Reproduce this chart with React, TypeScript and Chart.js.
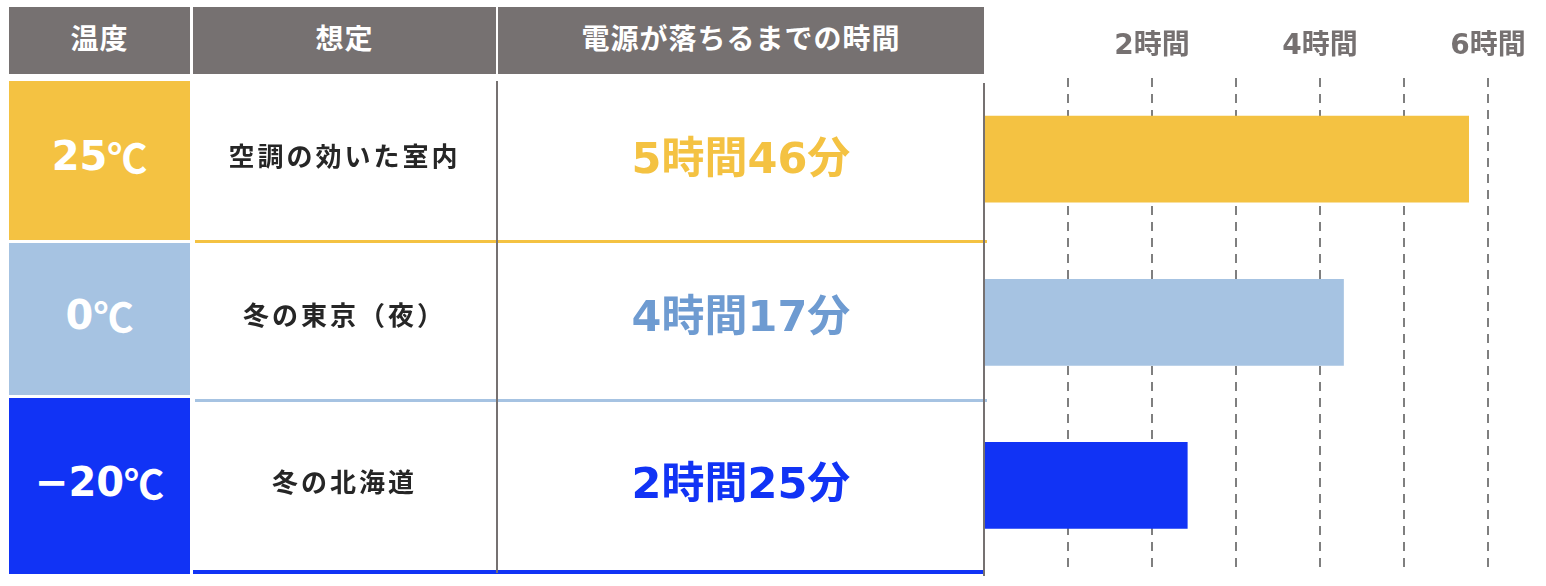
import React, { useEffect, useRef } from "react";
import Chart from "chart.js/auto";

// table / chart content
const headers = ["温度", "想定", "電源が落ちるまでの時間"];
const temperatures = ["25℃", "0℃", "−20℃"];
const scenarios = ["空調の効いた室内", "冬の東京（夜）", "冬の北海道"];
const durationTexts = ["5時間46分", "4時間17分", "2時間25分"];
const hours = [5.77, 4.28, 2.42];
const labeledHours = [2, 4, 6];

const GRAY = "#767171";
const GRID = "#7F7F7F";
const cellColors = ["#F4C242", "#A6C3E2", "#1133F5"];
const textColors = ["#F4C242", "#6E9BD1", "#1133F5"];
const FONT = '"DejaVu Sans", "Noto Sans CJK JP", sans-serif';
const CJK = '"Noto Sans CJK JP", sans-serif';

// layout of the table part
const cols = [
  { left: 9, width: 181 },
  { left: 193, width: 303 },
  { left: 498, width: 486 },
];
const rows = [
  { top: 81, height: 159, line: 240 },
  { top: 243, height: 152, line: 399 },
  { top: 398, height: 176, line: 570 },
];

// the ℃ sign is taken from the CJK font (single glyph)
const withCelsius = (s: string) => {
  const parts = s.split("℃");
  return (
    <>
      {parts[0]}
      {parts.length > 1 && <span style={{ fontFamily: CJK }}>℃</span>}
    </>
  );
};

const BarChart: React.FC = () => {
  const chartRef = useRef<HTMLCanvasElement>(null);

  useEffect(() => {
    if (!chartRef.current) return;
    const chart = new Chart(chartRef.current, {
      type: "bar",
      data: {
        labels: scenarios,
        datasets: [
          {
            data: hours,
            backgroundColor: cellColors,
            borderWidth: 0,
            barThickness: 86,
          },
        ],
      },
      options: {
        indexAxis: "y",
        animation: false,
        responsive: true,
        maintainAspectRatio: false,
        layout: { padding: { top: 30, right: 58, bottom: 19, left: 0 } },
        plugins: {
          legend: { display: false },
          tooltip: { enabled: false },
        },
        scales: {
          x: {
            position: "top",
            min: 0,
            max: 6,
            border: { display: false, dash: [9, 7] },
            grid: {
              color: (ctx: any) =>
                ctx.tick && ctx.tick.value === 0 ? "rgba(0,0,0,0)" : GRID,
              lineWidth: 2,
              drawTicks: true,
              tickLength: 14,
              tickColor: "rgba(0,0,0,0)",
            },
            ticks: {
              stepSize: 1,
              autoSkip: false,
              maxRotation: 0,
              padding: 0,
              color: GRAY,
              font: { family: FONT, size: 28, weight: "bold" },
              callback: (v: any) =>
                labeledHours.includes(Number(v)) ? `${v}時間` : "",
            },
          },
          y: { display: false },
        },
      },
    });

    return () => {
      chart.destroy();
    };
  }, []);

  return (
    <div
      style={{ position: "absolute", left: 984, top: 0, width: 562, height: 586 }}
    >
      <canvas ref={chartRef} />
    </div>
  );
};

export default function App() {
  return (
    <div
      style={{
        position: "absolute",
        left: 0,
        top: 0,
        width: 1546,
        height: 586,
        background: "#fff",
        overflow: "hidden",
      }}
    >
      {headers.map((h, i) => (
        <div
          key={h}
          style={{
            position: "absolute",
            left: cols[i].left,
            width: cols[i].width,
            top: 7,
            height: 67,
            background: GRAY,
            color: "#fff",
            display: "flex",
            alignItems: "center",
            justifyContent: "center",
            fontFamily: CJK,
            fontWeight: 700,
            fontSize: 28,
            letterSpacing: 1,
            paddingBottom: 8,
            boxSizing: "border-box",
          }}
        >
          {h}
        </div>
      ))}

      <BarChart />

      {rows.map((r, i) => (
        <React.Fragment key={i}>
          <div
            style={{
              position: "absolute",
              left: cols[0].left,
              width: cols[0].width,
              top: r.top,
              height: r.height,
              background: cellColors[i],
              color: "#fff",
              display: "flex",
              alignItems: "center",
              justifyContent: "center",
              fontFamily: FONT,
              fontWeight: 700,
              fontSize: 40,
              paddingBottom: 9,
              boxSizing: "border-box",
            }}
          >
            {withCelsius(temperatures[i])}
          </div>
          <div
            style={{
              position: "absolute",
              left: cols[1].left,
              width: cols[1].width,
              top: r.top,
              height: r.height,
              color: "#262626",
              display: "flex",
              alignItems: "center",
              justifyContent: "center",
              fontFamily: CJK,
              fontWeight: 700,
              fontSize: 26,
              letterSpacing: 3,
              paddingBottom: 12,
              boxSizing: "border-box",
            }}
          >
            {scenarios[i]}
          </div>
          <div
            style={{
              position: "absolute",
              left: cols[2].left,
              width: cols[2].width,
              top: r.top,
              height: r.height,
              color: textColors[i],
              display: "flex",
              alignItems: "center",
              justifyContent: "center",
              fontFamily: FONT,
              fontWeight: 700,
              fontSize: 43,
              paddingBottom: 14,
              boxSizing: "border-box",
            }}
          >
            {durationTexts[i]}
          </div>
          <div
            style={{
              position: "absolute",
              left: i === 2 ? 193 : 195,
              width: i === 2 ? 791 : 792,
              top: r.line,
              height: i === 2 ? 4 : 3,
              background: cellColors[i],
            }}
          />
        </React.Fragment>
      ))}

      <div
        style={{
          position: "absolute",
          left: 496,
          top: 81,
          width: 2,
          height: 492,
          background: GRAY,
        }}
      />
      <div
        style={{
          position: "absolute",
          left: 983,
          top: 83,
          width: 2,
          height: 493,
          background: GRAY,
          zIndex: 2,
        }}
      />
    </div>
  );
}
